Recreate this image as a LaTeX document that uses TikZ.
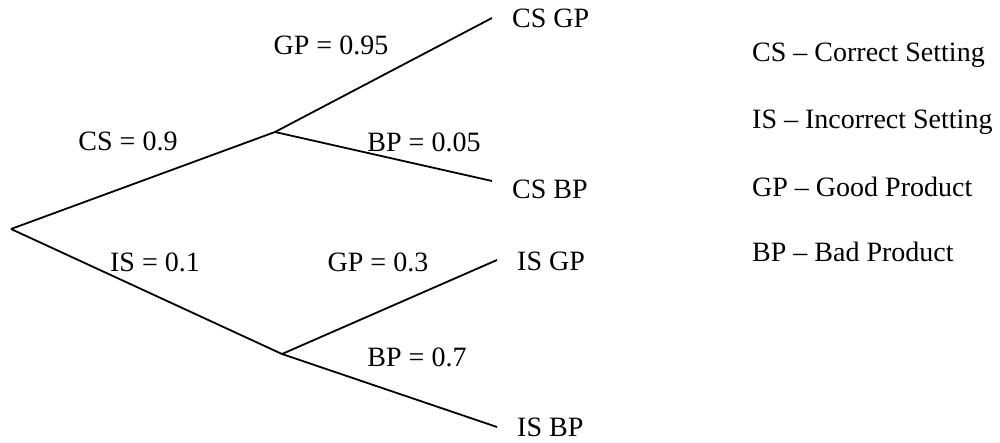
\documentclass[tikz,border=0pt]{standalone}
\usepackage{fontspec}
\setmainfont{Liberation Serif}
\begin{document}
\begin{tikzpicture}[x=1pt,y=-1pt,
  branch/.style={line width=1.8pt},
  lbl/.style={inner sep=0pt,font=\fontsize{28}{32}\selectfont},
  leaf/.style={lbl,anchor=west},
  key/.style={lbl,anchor=west}]
\useasboundingbox (0,0) rectangle (1000,443);

% branch points
\coordinate (root) at (11,229);
\coordinate (cs) at (275,132);
\coordinate (is) at (282,354);
\coordinate (csgpEnd) at (492,18);
\coordinate (csbpEnd) at (492,181);
\coordinate (isgpEnd) at (497,260);
\coordinate (isbpEnd) at (497,427);

% tree
\draw[branch] (root) -- (cs);
\draw[branch] (root) -- (is);
\draw[branch] (cs) -- (csgpEnd);
\draw[branch] (cs) -- (csbpEnd);
\draw[branch] (is) -- (isgpEnd);
\draw[branch] (is) -- (isbpEnd);

% probabilities
\node[lbl] (pcs) at (128,141) {CS = 0.9};
\node[lbl] (pis) at (155,262) {IS = 0.1};
\node[lbl] (pcsgp) at (331,45) {GP = 0.95};
\node[lbl] (pcsbp) at (424,142) {BP = 0.05};
\node[lbl] (pisgp) at (378,262) {GP = 0.3};
\node[lbl] (pisbp) at (417,357) {BP = 0.7};

% outcomes
\node[leaf] (csgp) at (512,18) {CS GP};
\node[leaf] (csbp) at (512,189) {CS BP};
\node[leaf] (isgp) at (517,261) {IS GP};
\node[leaf] (isbp) at (517,427) {IS BP};

% abbreviations
\node[key] (k1) at (752,55) {CS -- Correct Setting};
\node[key] (k2) at (752,122) {IS -- Incorrect Setting};
\node[key] (k3) at (752,187) {GP -- Good Product};
\node[key] (k4) at (752,252) {BP -- Bad Product};
\end{tikzpicture}
\end{document}
